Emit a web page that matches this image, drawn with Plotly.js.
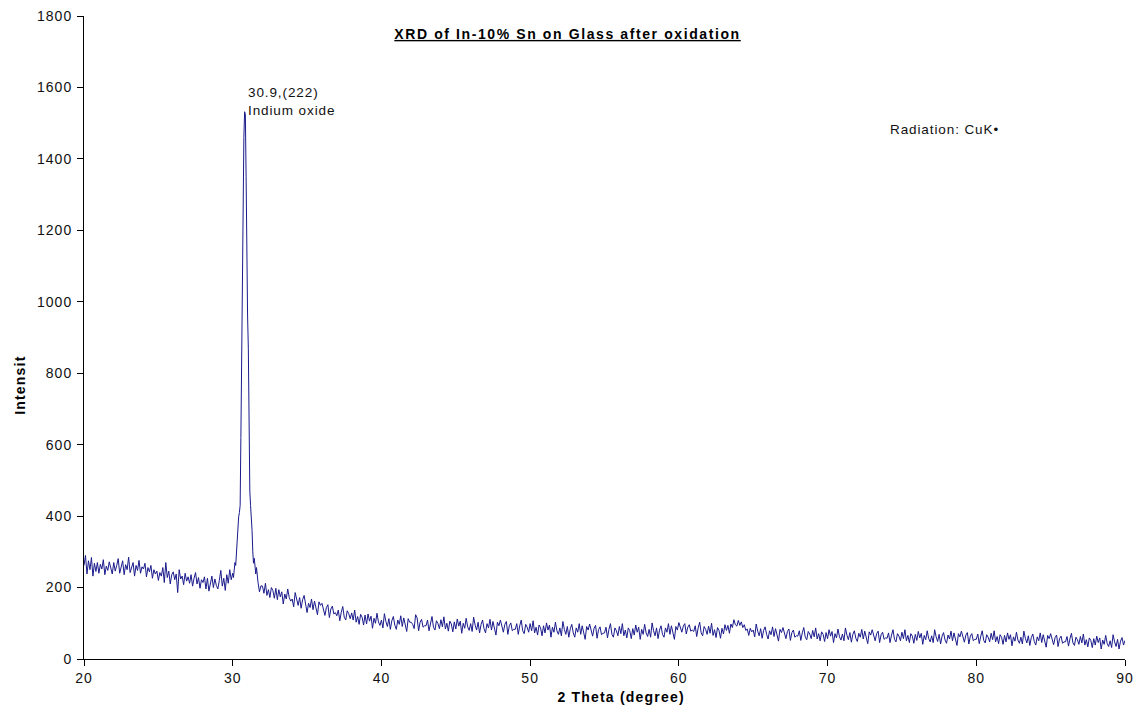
<!DOCTYPE html>
<html>
<head>
<meta charset="utf-8">
<script src="https://cdn.plot.ly/plotly-3.0.1.min.js"></script>
<style>
html,body{margin:0;padding:0;background:#fff;}
#chart{width:1136px;height:709px;}
#chart .gtitle{letter-spacing:1.6px;}
#chart .xtick text,#chart .ytick text{letter-spacing:1px;}
#chart .annotation-text{letter-spacing:0.9px;}
#chart .ann-xtitle .annotation-text{letter-spacing:1.2px;}
</style>
</head>
<body>
<div id="chart"></div>
<script>
// Scan grid for the two baseline segments (degrees 2θ)
var lowStart = 20.0, lowStep = 0.1;
var highStart = 31.7, highStep = 0.1;

// 20.0 – 30.0 deg
var lowIntensity = [
  262, 290, 238, 275, 250, 284, 232, 268, 245, 270,
  240, 265, 252, 278, 236, 260, 248, 272, 255, 238,
  270, 246, 262, 281, 240, 258, 275, 236, 264, 250,
  285, 242, 256, 270, 232, 262, 248, 276, 240, 258,
  252, 268, 230, 256, 244, 262, 226, 250, 238, 246,
  220, 242, 232, 256, 214, 270, 228, 246, 210, 236,
  244, 222, 238, 186, 250, 224, 232, 208, 240, 218,
  230, 212, 236, 204, 226, 242, 210, 228, 198, 222,
  214, 230, 196, 226, 190, 218, 232, 200, 224, 206,
  196, 220, 248, 204, 226, 192, 236, 212, 250, 222,
  240
];

// (222) In2O3 reflection
var peakTheta = [30.05, 30.1, 30.15, 30.2, 30.25, 30.3, 30.35, 30.4, 30.45, 30.5, 30.55, 30.6, 30.65, 30.7, 30.75, 30.8, 30.85, 30.9, 30.95, 31.0, 31.05, 31.1, 31.15, 31.2, 31.25, 31.3, 31.35, 31.4, 31.45, 31.5, 31.55, 31.6, 31.65];
var peakIntensity = [228, 252, 270, 262, 300, 335, 352, 398, 410, 430, 620, 880, 1080, 1290, 1460, 1532, 1525, 1350, 1060, 960, 870, 520, 470, 430, 405, 360, 300, 268, 282, 248, 238, 256, 226];

// 31.7 – 90.0 deg
var highIntensity = [
  215, 188, 205,
  204, 184, 212, 178, 194, 172, 200, 192, 170, 198,
  166, 194, 174, 188, 154, 182, 168, 196, 172, 162,
  168, 146, 186, 164, 150, 172, 142, 166, 178, 154,
  130, 156, 144, 168, 138, 162, 142, 124, 160, 150,
  156, 134, 122, 144, 152, 116, 140, 148, 126, 130,
  121, 137, 107, 131, 147, 117, 109, 135, 127, 113,
  129, 109, 137, 103, 119, 97, 125, 117, 95, 123,
  98, 126, 106, 120, 86, 114, 100, 128, 104, 94,
  109, 87, 127, 105, 91, 113, 83, 107, 119, 95,
  83, 109, 97, 121, 91, 115, 95, 77, 113, 103,
  103, 97, 85, 124, 115, 79, 103, 111, 89, 93,
  93, 109, 79, 103, 119, 89, 81, 107, 99, 85,
  110, 90, 118, 84, 100, 78, 106, 98, 76, 104,
  84, 112, 92, 106, 72, 100, 86, 114, 90, 80,
  99, 77, 117, 95, 81, 103, 73, 97, 109, 85,
  73, 99, 87, 111, 81, 105, 85, 67, 103, 93,
  109, 87, 75, 97, 105, 69, 93, 101, 79, 83,
  83, 99, 69, 93, 109, 79, 71, 97, 89, 75,
  99, 79, 107, 73, 89, 67, 95, 87, 65, 93,
  73, 101, 81, 95, 61, 89, 75, 103, 79, 69,
  87, 65, 105, 83, 69, 91, 61, 85, 97, 73,
  61, 87, 75, 99, 69, 93, 73, 55, 91, 81,
  98, 76, 64, 86, 94, 58, 82, 90, 68, 72,
  73, 89, 59, 83, 99, 69, 61, 87, 79, 65,
  91, 71, 99, 65, 81, 59, 87, 79, 57, 85,
  67, 95, 75, 89, 55, 83, 69, 97, 73, 63,
  83, 61, 101, 79, 65, 87, 57, 81, 93, 69,
  61, 87, 75, 99, 69, 93, 73, 55, 91, 81,
  102, 84, 75, 92, 99, 70, 89, 96, 78, 81,
  77, 93, 63, 87, 103, 73, 65, 91, 83, 69,
  92, 72, 100, 66, 82, 60, 88, 80, 58, 86,
  70, 96, 80, 94, 72, 98, 88, 110, 96, 92,
  108, 94, 104, 88, 96, 80, 84, 66, 86, 76,
  81, 62, 98, 78, 65, 85, 58, 80, 90, 69,
  56, 79, 68, 90, 63, 85, 67, 50, 83, 74,
  88, 68, 57, 77, 84, 52, 74, 81, 61, 65,
  64, 79, 52, 73, 88, 61, 54, 77, 70, 57,
  80, 62, 87, 56, 71, 51, 76, 69, 49, 74,
  57, 82, 64, 77, 46, 71, 59, 84, 62, 53,
  70, 51, 87, 67, 54, 74, 47, 69, 79, 58,
  49, 72, 61, 83, 56, 78, 60, 43, 76, 67,
  82, 62, 51, 71, 78, 46, 68, 75, 55, 59,
  58, 73, 46, 67, 82, 55, 48, 71, 64, 51,
  75, 57, 82, 51, 66, 46, 71, 64, 44, 69,
  52, 77, 59, 72, 41, 66, 54, 79, 57, 48,
  65, 46, 82, 62, 49, 69, 42, 64, 74, 53,
  44, 67, 56, 78, 51, 73, 55, 38, 71, 62,
  78, 58, 47, 67, 74, 42, 64, 71, 51, 55,
  55, 70, 43, 64, 79, 52, 45, 68, 61, 48,
  72, 54, 79, 48, 63, 43, 68, 61, 41, 66,
  48, 73, 55, 68, 37, 62, 50, 75, 53, 44,
  61, 42, 78, 58, 45, 65, 38, 60, 70, 49,
  39, 62, 51, 73, 46, 68, 50, 33, 66, 57,
  71, 51, 40, 60, 67, 35, 57, 64, 44, 48,
  48, 63, 36, 57, 72, 45, 38, 61, 54, 41,
  63, 45, 70, 39, 54, 34, 59, 52, 32, 57,
  39, 64, 46, 59, 28, 53, 41, 66, 44, 35,
  51, 32, 68, 48, 35, 55, 28, 50, 60, 39,
  52
];

var xTicks = [20, 30, 40, 50, 60, 70, 80, 90];
var yTicks = [0, 200, 400, 600, 800, 1000, 1200, 1400, 1600, 1800];

var chartTitle = "XRD of In-10% Sn on Glass after oxidation";
var xTitle = "2 Theta (degree)";
var yTitle = "Intensit";
var peakLabel = "30.9,(222)<br>Indium oxide";
var peakLabelPos = [30.9, 1560];
var radiationLabel = "Radiation: CuK\u2022";
var radiationLabelPos = [74.05, 1481];

// build full trace
var x = [], y = [];
for (var i = 0; i < lowIntensity.length; i++) {
  x.push(+(lowStart + i * lowStep).toFixed(2));
  y.push(lowIntensity[i]);
}
for (var j = 0; j < peakTheta.length; j++) {
  x.push(peakTheta[j]);
  y.push(peakIntensity[j]);
}
for (var k = 0; k < highIntensity.length; k++) {
  x.push(+(highStart + k * highStep).toFixed(2));
  y.push(highIntensity[k]);
}

var font = "Liberation Sans, Arial, sans-serif";

var data = [{
  x: x, y: y, type: "scatter", mode: "lines",
  line: {color: "#1a1a8c", width: 1},
  hoverinfo: "x+y", showlegend: false
}];

var layout = {
  width: 1136, height: 709,
  paper_bgcolor: "#ffffff", plot_bgcolor: "#ffffff",
  margin: {l: 84, r: 11, t: 16, b: 50, pad: 0},
  font: {family: font, color: "#111111", size: 13},
  title: {
    text: "<u>" + chartTitle + "</u>",
    font: {family: font, size: 14, weight: 700, color: "#000"},
    xref: "paper", x: 0.4645, xanchor: "center",
    yref: "container", y: 0.952, yanchor: "middle"
  },
  xaxis: {
    range: [20, 90], tickvals: xTicks, ticktext: xTicks.map(String),
    showgrid: false, zeroline: false, showline: true, linecolor: "#000", linewidth: 1,
    ticks: "outside", ticklen: 6, tickcolor: "#000", tickwidth: 1,
    tickfont: {family: font, size: 14, color: "#111"}
  },
  yaxis: {
    range: [0, 1800], tickvals: yTicks, ticktext: yTicks.map(String),
    showgrid: false, zeroline: false, showline: true, linecolor: "#000", linewidth: 1,
    ticks: "outside", ticklen: 6, tickcolor: "#000", tickwidth: 1,
    ticklabelstandoff: 2,
    tickfont: {family: font, size: 14, color: "#111"}
  },
  annotations: [
    {x: peakLabelPos[0], y: peakLabelPos[1], xref: "x", yref: "y", text: peakLabel,
     showarrow: false, xanchor: "left", yanchor: "middle", align: "left",
     font: {family: font, size: 13.5, color: "#111"}},
    {x: radiationLabelPos[0], y: radiationLabelPos[1], xref: "x", yref: "y", text: radiationLabel,
     showarrow: false, xanchor: "left", yanchor: "middle", align: "left",
     font: {family: font, size: 13.5, color: "#111"}},
    {x: 0.516, y: -0.059, xref: "paper", yref: "paper", text: "<b>" + xTitle + "</b>",
     showarrow: false, xanchor: "center", yanchor: "middle",
     font: {family: font, size: 14, color: "#000"}},
    {x: -0.0615, y: 0.426, xref: "paper", yref: "paper", text: "<b>" + yTitle + "</b>",
     showarrow: false, xanchor: "center", yanchor: "middle", textangle: -90,
     font: {family: font, size: 14, color: "#000"}}
  ]
};

Plotly.newPlot("chart", data, layout, {displayModeBar: false, staticPlot: true}).then(function () {
  var anns = document.querySelectorAll("#chart .annotation");
  if (anns.length >= 3) anns[2].classList.add("ann-xtitle");
  if (anns.length >= 4) anns[3].classList.add("ann-xtitle");
});
</script>
</body>
</html>
